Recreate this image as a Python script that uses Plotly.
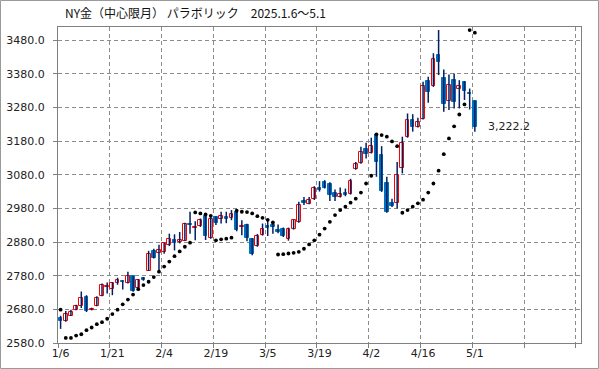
import plotly.graph_objects as go

# ---- data ----
tick_labels = ["1/6", "1/21", "2/4", "2/19", "3/5", "3/19", "4/2", "4/16", "5/1"]

open_ = [2653, 2645, 2661, 2679, 2690, 2716, 2679, 2691, 2721, 2747,
         2739, 2757, 2765, 2759, 2778, 2742, 2772, 2795, 2854, 2846,
         2849, 2872, 2885, 2879, 2884, 2935, 2923, 2927, 2957, 2892,
         2954, 2947, 2953, 2950, 2970, 2926, 2930, 2888, 2869, 2902,
         2927, 2930, 2917, 2918, 2890, 2920, 2940, 3001, 2994, 3008,
         3040, 3057, 3052, 3027, 3014, 3025, 3024, 3098, 3116, 3156,
         3146, 3198, 3138, 3055, 2997, 2997, 3099, 3193, 3244, 3222,
         3247, 3358, 3344, 3436, 3366, 3300, 3361, 3334, 3356, 3324,
         3299]
high_ = [2661, 2675, 2679, 2694, 2733, 2722, 2685, 2719, 2757, 2760,
         2761, 2774, 2766, 2792, 2779, 2770, 2776, 2854, 2860, 2872,
         2878, 2905, 2903, 2910, 2937, 2970, 2942, 2950, 2960, 2955,
         2956, 2970, 2970, 2975, 2976, 2945, 2934, 2891, 2904, 2935,
         2948, 2938, 2932, 2923, 2923, 2947, 3000, 3014, 3014, 3046,
         3061, 3064, 3058, 3036, 3042, 3039, 3068, 3118, 3163, 3175,
         3190, 3203, 3165, 3074, 3009, 3118, 3193, 3262, 3260, 3249,
         3356, 3371, 3441, 3510, 3393, 3378, 3381, 3361, 3358, 3336,
         3300]
low_ = [2622, 2643, 2660, 2677, 2684, 2672, 2677, 2689, 2719, 2727,
        2722, 2753, 2739, 2757, 2732, 2739, 2765, 2794, 2831, 2797,
        2845, 2868, 2855, 2876, 2883, 2905, 2885, 2925, 2886, 2890,
        2931, 2935, 2936, 2945, 2912, 2900, 2882, 2841, 2866, 2899,
        2898, 2905, 2906, 2895, 2884, 2917, 2937, 2990, 2992, 3005,
        3030, 3039, 3002, 3002, 3012, 3016, 3021, 3095, 3113, 3128,
        3143, 3074, 3029, 2967, 2984, 2980, 3084, 3190, 3208, 3220,
        3244, 3294, 3341, 3376, 3267, 3272, 3277, 3277, 3302, 3274,
        3208]
close_ = [2645, 2665, 2671, 2689, 2715, 2674, 2681, 2715, 2751, 2749,
          2757, 2768, 2761, 2778, 2735, 2766, 2767, 2844, 2833, 2856,
          2876, 2890, 2876, 2887, 2933, 2931, 2926, 2945, 2898, 2948,
          2936, 2956, 2949, 2963, 2916, 2929, 2891, 2844, 2899, 2920,
          2923, 2925, 2909, 2897, 2920, 2945, 2989, 2996, 3004, 3040,
          3034, 3041, 3019, 3013, 3024, 3020, 3061, 3113, 3149, 3141,
          3164, 3118, 3032, 2970, 2987, 3078, 3175, 3244, 3222, 3238,
          3345, 3327, 3423, 3416, 3290, 3348, 3297, 3345, 3329, 3320,
          3222.2]
sar = [2679, 2595, 2595, 2602, 2606, 2618, 2626, 2636, 2642, 2652,
       2666, 2679, 2695, 2709, 2724, 2740, 2752, 2762, 2776, 2792,
       2807, 2822, 2838, 2852, 2866, 2878, 2968, 2965, 2962, 2958,
       2885, 2888, 2890, 2893, 2973, 2970, 2969, 2965, 2957, 2952,
       2946, 2938, 2843, 2844, 2846, 2848, 2851, 2860, 2873, 2885,
       2902, 2920, 2940, 2960, 2975, 2985, 2997, 3009, 3027, 3054,
       3077, 3200, 3198, 3193, 3179, 3165, 2967, 2975, 2985, 2995,
       3006, 3027, 3054, 3092, 3141, 3188, 3224, 3259, 3289, 3510,
       3502]

n = len(close_)
x = list(range(n))

RED = "#FF0000"
BLUE = "#0070C0"
WICK = "#002060"
GRID = "#8C8C8C"

fig = go.Figure()

# wicks
wx, wy = [], []
for i in range(n):
    wx += [x[i], x[i], None]
    wy += [low_[i], high_[i], None]
fig.add_trace(go.Scatter(x=wx, y=wy, mode="lines",
                         line=dict(color=WICK, width=1.5),
                         hoverinfo="skip", showlegend=False))

# bodies
up = [i for i in range(n) if close_[i] >= open_[i]]
dn = [i for i in range(n) if close_[i] < open_[i]]

fig.add_trace(go.Bar(x=[x[i] for i in up],
                     y=[close_[i] - open_[i] for i in up],
                     base=[open_[i] for i in up], width=0.74,
                     marker=dict(color="white", line=dict(color=RED, width=1)),
                     showlegend=False))
fig.add_trace(go.Bar(x=[x[i] for i in dn],
                     y=[open_[i] - close_[i] for i in dn],
                     base=[close_[i] for i in dn], width=0.68,
                     marker=dict(color=BLUE, line=dict(color=BLUE, width=1)),
                     showlegend=False))

# parabolic SAR
fig.add_trace(go.Scatter(x=x, y=sar, mode="markers",
                         marker=dict(color="black", size=3.8, symbol="circle"),
                         showlegend=False))

W, H = 599, 369
ml, mr, mt, mb = 58, 18, 27, 26
pw, ph = W - ml - mr, H - mt - mb

fig.update_layout(
    width=W, height=H,
    margin=dict(l=ml, r=mr, t=mt, b=mb, pad=0),
    paper_bgcolor="white", plot_bgcolor="white",
    barmode="overlay", bargap=0,
    font=dict(family="DejaVu Sans", size=11, color="#222222"),
    showlegend=False,
)

fig.update_xaxes(
    range=[-0.5, 100.5],
    tickmode="array",
    tickvals=[x[0] + 10 * k for k in range(len(tick_labels))],
    ticktext=tick_labels,
    ticks="", showgrid=False, zeroline=False, automargin=False,
    showline=True, linecolor="#808080", linewidth=1, mirror=True,
    tickfont=dict(family="DejaVu Sans", size=11, color="#222222"),
    minor=dict(tick0=9.5, dtick=10, showgrid=True, gridcolor=GRID,
               griddash="4px,3px", gridwidth=1,
               ticks="outside", ticklen=4, tickcolor="#808080"),
)
fig.update_yaxes(
    range=[2580, 3519],
    tickmode="array",
    tickvals=list(range(2580, 3481, 100)),
    tickformat=".1f",
    ticks="outside", ticklen=4, tickcolor="#808080",
    showgrid=True, gridcolor=GRID, griddash="4px,3px", gridwidth=1,
    zeroline=False, automargin=False,
    showline=True, linecolor="#808080", linewidth=1, mirror=True,
    tickfont=dict(family="DejaVu Sans", size=11, color="#222222"),
    ticklabelstandoff=6,
)

# title
fig.add_annotation(
    text="NY金（中心限月） パラボリック　2025.1.6～5.1",
    xref="paper", yref="paper",
    x=(63 - ml) / pw, y=1 + (mt - 13) / ph,
    xanchor="left", yanchor="middle", showarrow=False,
    font=dict(family="Noto Sans CJK JP", size=12, color="#111111"),
)

# last price label
fig.add_annotation(
    text=f"{close_[-1]:,.1f}",
    x=x[-1], y=close_[-1], xanchor="left", yanchor="middle",
    xshift=11, showarrow=False,
    font=dict(family="DejaVu Sans", size=11, color="#222222"),
)

# outer frame
fig.add_shape(type="rect", xref="paper", yref="paper",
              x0=(0.5 - ml) / pw, x1=(W - 0.5 - ml) / pw,
              y0=-(mb - 0.5) / ph, y1=1 + (mt - 0.5) / ph,
              line=dict(color="#9A9A9A", width=1), fillcolor="rgba(0,0,0,0)",
              layer="below")

fig.write_html("out.html",
               config={"displayModeBar": False},
               post_script="document.body.style.margin='0';document.body.style.overflow='hidden';")
